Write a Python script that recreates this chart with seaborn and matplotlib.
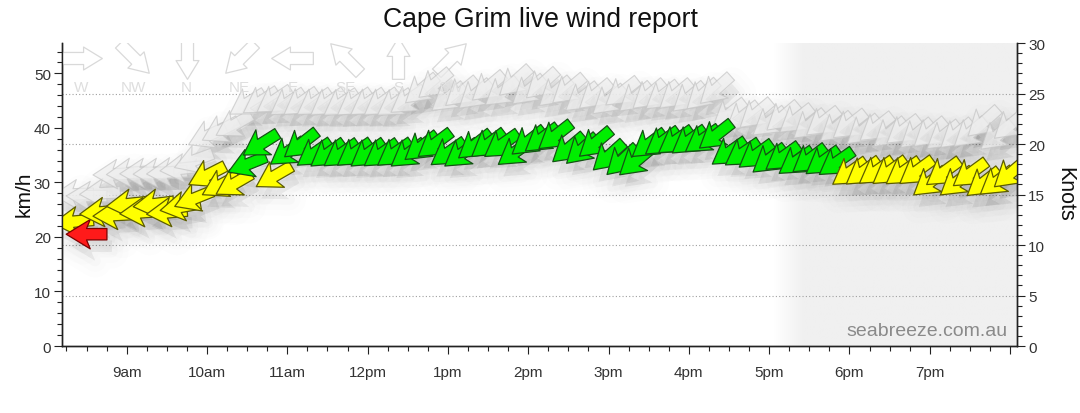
import numpy as np
import pandas as pd
import matplotlib
matplotlib.use("Agg")
import matplotlib.pyplot as plt
import seaborn as sns
from matplotlib.path import Path
from matplotlib.markers import MarkerStyle
from matplotlib.transforms import Affine2D, ScaledTranslation
from matplotlib.ticker import MultipleLocator
from matplotlib.colors import LinearSegmentedColormap

# one reading every 10 minutes, 8:20am to 8:00pm (hours of the day)
horas = np.arange(8 * 60 + 20, 20 * 60 + 1, 10) / 60

vento_kmh = [22.8, 20.5, 24.5, 24.0, 26.0, 24.5, 26.0, 24.5, 25.5, 27.0,
             31.3, 29.5, 29.7, 33.3, 37.0, 31.1, 35.5, 37.0, 35.3, 35.2,
             35.2, 35.3, 35.2, 35.2, 35.3, 35.2, 36.5, 37.0, 35.4, 35.2,
             36.8, 37.0, 36.9, 35.5, 37.5, 38.0, 38.5, 36.2, 36.0, 37.2,
             34.8, 34.0, 33.8, 37.0, 37.4, 37.6, 37.6, 37.8, 38.6, 35.5,
             35.3, 35.0, 34.2, 34.6, 33.8, 34.2, 33.8, 33.6, 31.8, 31.9,
             32.0, 32.0, 31.9, 32.0, 30.0, 31.8, 30.0, 31.6, 29.9, 30.1,
             31.6]

rajada_kmh = [27.8, 27.5, 28.0, 31.5, 31.7, 31.7, 31.7, 31.8, 32.5, 34.0,
              38.5, 39.5, 40.5, 44.5, 44.8, 45.0, 44.5, 44.6, 44.5, 44.5,
              44.4, 44.5, 44.5, 44.5, 44.4, 45.0, 47.0, 48.0, 45.5, 46.5,
              46.0, 47.5, 46.5, 48.5, 46.8, 48.0, 46.5, 47.0, 45.5, 46.0,
              45.0, 46.5, 45.5, 46.0, 45.8, 46.0, 45.5, 46.0, 47.0, 42.5,
              42.0, 42.5, 41.0, 42.0, 41.5, 40.5, 41.0, 40.0, 40.5, 39.5,
              40.0, 39.0, 39.5, 38.8, 39.0, 38.5, 38.8, 39.0, 41.0, 38.5,
              40.5]

# direction the wind comes from, degrees
direcao_vento = [85, 90, 85, 87, 84, 86, 83, 85, 80, 68,
                 63, 62, 60, 68, 58, 60, 55, 52, 55, 54,
                 55, 55, 54, 55, 55, 54, 52, 53, 55, 54,
                 52, 53, 55, 54, 52, 53, 52, 50, 48, 50,
                 48, 47, 50, 53, 54, 55, 54, 55, 52, 55,
                 56, 54, 52, 54, 55, 53, 54, 55, 55, 54,
                 55, 54, 55, 54, 52, 54, 52, 54, 52, 53,
                 50]

direcao_rajada = [88, 90, 87, 88, 86, 88, 87, 86, 84, 70,
                  65, 62, 60, 58, 57, 56, 56, 55, 56, 55,
                  56, 55, 56, 55, 56, 55, 50, 50, 52, 50,
                  50, 50, 52, 48, 50, 48, 50, 50, 52, 50,
                  50, 52, 50, 50, 52, 50, 50, 48, 48, 52,
                  52, 50, 52, 50, 52, 50, 52, 50, 52, 50,
                  52, 50, 52, 50, 50, 52, 50, 50, 48, 50,
                  50]

pontos_cardeais = ["W", "NW", "N", "NE", "E", "SE", "S", "SW"]
graus_cardeais = [270, 315, 0, 45, 90, 135, 180, 225]

rotulos_hora = ["9am", "10am", "11am", "12pm", "1pm", "2pm", "3pm",
                "4pm", "5pm", "6pm", "7pm", ""]

KMH_POR_NO = 1.852


def seta(graus, simples=False):
    # arrow pointing +x, then turned to where the wind blows to
    if simples:
        verts = [(-1, -0.29), (0.1, -0.29), (0.1, -0.55), (1, 0),
                 (0.1, 0.55), (0.1, 0.29), (-1, 0.29), (-1, -0.29)]
    else:
        verts = [(-1, -0.28), (0, -0.28), (-0.18, -0.72), (1, 0),
                 (-0.18, 0.72), (0, 0.28), (-1, 0.28), (-1, -0.28)]
    codes = [Path.MOVETO] + [Path.LINETO] * 6 + [Path.CLOSEPOLY]
    return MarkerStyle(Path(verts, codes),
                       transform=Affine2D().rotate_deg(-90 - graus))


def classe(v):
    if v < 12 * KMH_POR_NO:
        return "fraco"
    if v < 17.5 * KMH_POR_NO:
        return "medio"
    return "forte"


df = pd.DataFrame({"hora": horas, "vento": vento_kmh, "rajada": rajada_kmh,
                   "dir_vento": direcao_vento, "dir_rajada": direcao_rajada})
df["classe"] = df["vento"].apply(classe)

marcadores = {d: seta(d) for d in set(direcao_vento) | set(direcao_rajada)}
preenchimento = {"fraco": "#ff1a1a", "medio": "#ffff00", "forte": "#00ee00"}
contorno = {"fraco": "#7a0000", "medio": "#5c5c00", "forte": "#145214"}
TAMANHO = 860

sns.set_style("ticks")
plt.rcParams["font.family"] = ["Liberation Sans", "DejaVu Sans"]

fig = plt.figure(figsize=(10.8, 4.14), dpi=100)
ax2 = fig.add_axes([0.0574, 0.1618, 0.8843, 0.7319])
ax = ax2.twinx()
ax.yaxis.tick_left()
ax.yaxis.set_label_position("left")
ax2.yaxis.tick_right()
ax2.yaxis.set_label_position("right")
ax.set_zorder(ax2.get_zorder() + 1)
ax.patch.set_visible(False)

x_min, x_max = 8.194, 20.087

# evening shading (gradient at the start)
cinza = LinearSegmentedColormap.from_list("sombra", ["#ffffff", "#f0f0f0"])
grad = np.concatenate([np.linspace(0, 1, 30), np.ones(200)])[None, :]
ax2.imshow(grad, extent=(17.05, x_max, 0, 30), cmap=cinza, aspect="auto",
           zorder=0, interpolation="bilinear")

for k in [5, 10, 15, 20, 25]:
    ax2.axhline(k, color="#a0a0a0", lw=0.8, ls=(0, (1, 2)), zorder=1)

# soft shadows under every arrow
for col, dcol in [("rajada", "dir_rajada"), ("vento", "dir_vento")]:
    for lw, alpha in [(0, 0.022), (8, 0.014), (16, 0.009), (24, 0.006)]:
        sns.scatterplot(data=df, x="hora", y=col, style=dcol, markers=marcadores,
                        s=TAMANHO, color="black", edgecolor="black", linewidth=lw,
                        alpha=alpha, legend=False, ax=ax)
        ax.collections[-1].set_offset_transform(
            ax.transData + ScaledTranslation(5 / 100, -12 / 100, fig.dpi_scale_trans))
        ax.collections[-1].set_joinstyle("round")

# gusts
sns.scatterplot(data=df, x="hora", y="rajada", style="dir_rajada", markers=marcadores,
                s=TAMANHO, color="#eeeeee", edgecolor="#c4c4c4", linewidth=0.8,
                alpha=0.7, legend=False, ax=ax)

# wind speed
sns.scatterplot(data=df, x="hora", y="vento", hue="classe", palette=preenchimento,
                style="dir_vento", markers=marcadores, s=TAMANHO,
                edgecolor="#333333", linewidth=0.9, legend=False, ax=ax)
ax.collections[-1].set_edgecolors([contorno[c] for c in df["classe"]])

# compass key
for i, (nome, g) in enumerate(zip(pontos_cardeais, graus_cardeais)):
    xa = 0.02 + i * 0.0553
    ax.scatter([xa], [0.952], marker=seta(g, simples=True), s=900,
               facecolor="white", edgecolor="#d9d9d9", linewidth=0.9,
               transform=ax.transAxes, zorder=0.5)
    ax.text(xa, 0.855, nome, transform=ax.transAxes, ha="center", va="center",
            color="#dedede", fontsize=11)

ax.text(0.99, 0.022, "seabreeze.com.au", transform=ax.transAxes, ha="right",
        va="bottom", color="#8a8a8a", fontsize=14)

ax.set_xlim(x_min, x_max)
ax.set_ylim(0, 30 * KMH_POR_NO)
ax2.set_ylim(0, 30)
ax2.set_xlim(x_min, x_max)

ax.set_xticks(range(9, 21))
ax.set_xticklabels(rotulos_hora)
ax.xaxis.set_minor_locator(MultipleLocator(0.25))
ax2.set_xticks(range(9, 21))
ax2.set_xticklabels(rotulos_hora, fontsize=11, color="#222222")
ax2.xaxis.set_minor_locator(MultipleLocator(0.25))
ax.tick_params(axis="x", which="both", bottom=False, labelbottom=False)

ax.yaxis.set_major_locator(MultipleLocator(10))
ax.yaxis.set_minor_locator(MultipleLocator(2))
ax2.yaxis.set_major_locator(MultipleLocator(5))
ax2.yaxis.set_minor_locator(MultipleLocator(1))

for a in (ax, ax2):
    a.tick_params(which="major", length=6, width=0.8, color="#222222",
                  labelsize=11, labelcolor="#333333", pad=2)
    a.tick_params(which="minor", length=3.5, width=0.8, color="#222222")
    a.spines["top"].set_visible(False)
    for s in ("left", "right", "bottom"):
        a.spines[s].set_visible(True)
        a.spines[s].set_color("#222222")
        a.spines[s].set_linewidth(1)
ax2.tick_params(axis="x", which="major", pad=8)

ax.set_xlabel("")
ax.set_ylabel("")
ax2.set_ylabel("")

fig.text(0.5, 0.952, "Cape Grim live wind report", ha="center", va="center",
         fontsize=19.2, color="#111111")
fig.text(0.022, 0.53, "km/h", rotation=90, ha="center", va="center",
         fontsize=15, color="#111111")
fig.text(0.986, 0.53, "Knots", rotation=270, ha="center", va="center",
         fontsize=15.5, color="#111111")

fig.savefig("out.png", dpi=100)
